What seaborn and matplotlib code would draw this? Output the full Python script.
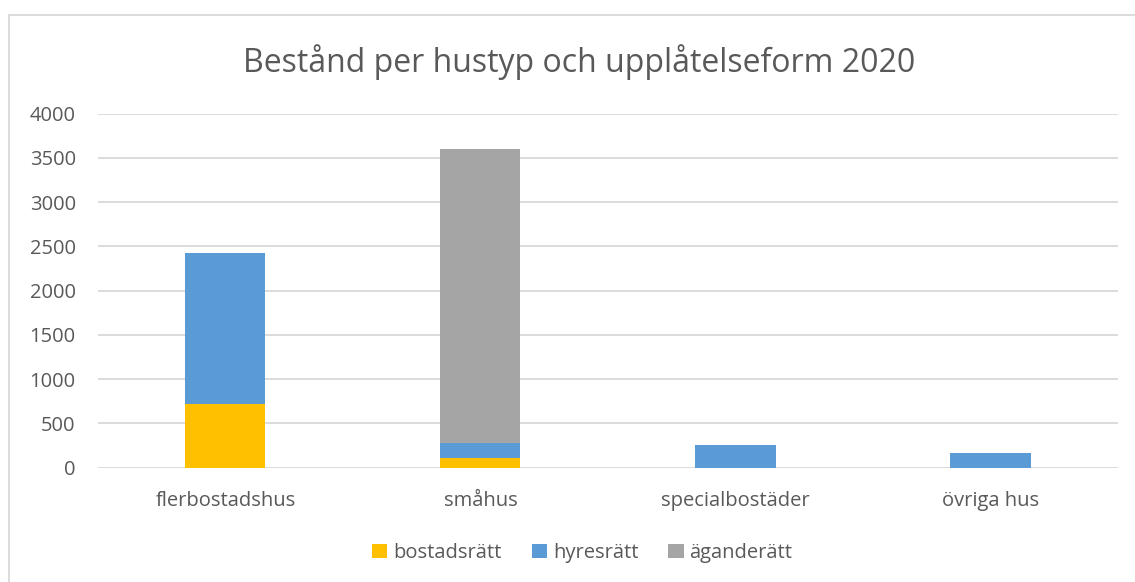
#!/usr/bin/env python3

import pandas as pd
import seaborn as sns
import matplotlib
import matplotlib.pyplot as plt
from matplotlib.patches import Patch, Rectangle

matplotlib.use('Agg')

categories = ['flerbostadshus', 'småhus', 'specialbostäder', 'övriga hus']
bostadsratt = [720, 110, 0, 0]
hyresratt = [1710, 170, 255, 160]
aganderatt = [0, 3320, 0, 0]

series_names = ['bostadsrätt', 'hyresrätt', 'äganderätt']
colors = ['#FFC000', '#5B9BD5', '#A5A5A5']
text_color = '#595959'
grid_color = '#D9D9D9'


def main():
    sns.set_theme(style='white')
    plt.rcParams['font.family'] = ['Open Sans', 'DejaVu Sans']

    df = pd.DataFrame({'hustyp': categories,
                       'bostadsrätt': bostadsratt,
                       'hyresrätt': hyresratt,
                       'äganderätt': aganderatt})
    # cumulative heights, drawn tallest first so the lower layers sit on top
    df['c1'] = df['bostadsrätt']
    df['c2'] = df['c1'] + df['hyresrätt']
    df['c3'] = df['c2'] + df['äganderätt']

    fig = plt.figure(figsize=(11.35, 5.82), dpi=100)
    ax = fig.add_axes([0.0863, 0.1967, 0.8987, 0.6079])

    for col, color in zip(['c3', 'c2', 'c1'], colors[::-1]):
        sns.barplot(data=df, x='hustyp', y=col, color=color, width=0.314,
                    saturation=1, linewidth=0, ax=ax, zorder=3)

    ax.set_xlim(-0.5, 3.5)
    ax.set_ylim(0, 4000)
    ax.set_yticks(range(0, 4001, 500))
    ax.yaxis.grid(True, color=grid_color, linewidth=1.3, zorder=0)
    ax.set_axisbelow(True)
    for s in ax.spines.values():
        s.set_visible(False)
    ax.set_xlabel('')
    ax.set_ylabel('')
    ax.tick_params(axis='both', length=0, labelsize=14.5, colors=text_color)
    ax.tick_params(axis='x', pad=17)
    ax.tick_params(axis='y', pad=16)

    fig.text(0.51, 0.893, 'Bestånd per hustyp och upplåtelseform 2020',
             ha='center', va='center', fontsize=23, color=text_color)

    handles = [Patch(facecolor=c, edgecolor='none') for c in colors]
    fig.legend(handles, series_names, loc='center', bbox_to_anchor=(0.513, 0.05),
               ncol=3, frameon=False, fontsize=14.5, labelcolor=text_color,
               handlelength=0.75, handleheight=0.75, handletextpad=0.3,
               columnspacing=1.5)

    # chart border (cut off at the right and bottom edges in the reference)
    fig.patches.append(Rectangle((9 / 1135, -0.05), 1.2, 1 - 15 / 582 + 0.05,
                                 transform=fig.transFigure, fill=False,
                                 edgecolor=grid_color, linewidth=1.3))

    fig.savefig('out.png', dpi=100)
    return 0


if __name__ == '__main__':
    main()
